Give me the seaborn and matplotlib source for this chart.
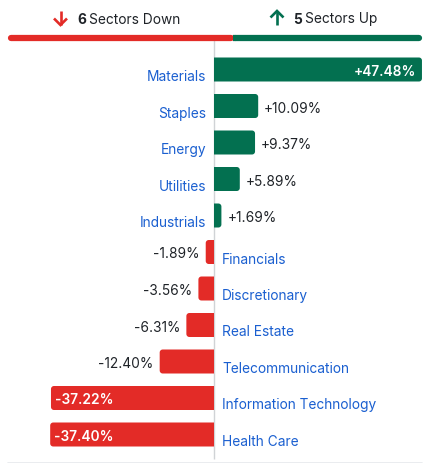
import matplotlib
matplotlib.use("Agg")
import matplotlib.pyplot as plt
from matplotlib.patches import Polygon
import seaborn as sns
import pandas as pd
import numpy as np

sectors = ["Materials", "Staples", "Energy", "Utilities", "Industrials",
           "Financials", "Discretionary", "Real Estate", "Telecommunication",
           "Information Technology", "Health Care"]
values = [47.48, 10.09, 9.37, 5.89, 1.69, -1.89, -3.56, -6.31, -12.40, -37.22, -37.40]
value_labels = ["+47.48%", "+10.09%", "+9.37%", "+5.89%", "+1.69%", "-1.89%",
                "-3.56%", "-6.31%", "-12.40%", "-37.22%", "-37.40%"]
n_down, n_up = 6, 5

GREEN = "#037050"
RED = "#e32b27"
BLUE = "#1a5fd0"
DARK = "#1f2328"

df = pd.DataFrame({"sector": sectors, "value": values,
                   "dir": ["up" if v > 0 else "down" for v in values]})

W, H = 433, 464
fig = plt.figure(figsize=(W / 100, H / 100), dpi=100)
sns.set_style("white")
plt.rcParams["font.family"] = ["Inter", "DejaVu Sans"]

ax = fig.add_axes([0, 0, 1, 1])
PX_X = 4.38      # pixels per percent unit
X0 = 214         # zero line pixel
ROW = 36.5       # pixels per row
Y0 = 70.5        # first row center pixel

sns.barplot(data=df, x="value", y="sector", hue="dir",
            palette={"up": GREEN, "down": RED}, dodge=False, legend=False,
            saturation=1, width=24 / ROW, orient="h", ax=ax, order=sectors)
ax.set_xlim(-X0 / PX_X, (W - X0) / PX_X)
ax.set_ylim((H - Y0) / ROW, -Y0 / ROW)
ax.axis("off")

# rounded outer corners only
rx = 3.0 / PX_X
ry = 3.0 / ROW
t = np.linspace(0, np.pi / 2, 8)
for p in list(ax.patches):
    x, y = p.get_x(), p.get_y()
    w, h = p.get_width(), p.get_height()
    if h == 0 or w == 0:
        continue
    fc = p.get_facecolor()
    y0, y1 = y, y + h
    e = x + w
    s = np.sign(w)
    r = min(rx, abs(w) / 2)
    cx = e - s * r
    top_pts = [(cx + s * r * np.sin(a), y0 + ry - ry * np.cos(a)) for a in t]
    bot_pts = [(cx + s * r * np.sin(a), y1 - ry + ry * np.cos(a)) for a in t[::-1]]
    pts = [(0, y0)] + top_pts + bot_pts + [(0, y1)]
    ax.add_patch(Polygon(pts, closed=True, fc=fc, ec="none", zorder=2))
    p.remove()

def py(pix):
    return (pix - Y0) / ROW

# zero line
ax.plot([0, 0], [py(40), py(460)], color="#d0d3d6", lw=1, zorder=1,
        solid_capstyle="butt")
# bottom rule
ax.plot([(8 - X0) / PX_X, (422 - X0) / PX_X], [py(463.5), py(463.5)],
        color="#e6e9ec", lw=1.2, zorder=1)

pad = 6 / PX_X
txt_off = 1.5 / ROW
lab_off = 6.5 / ROW
FS = 9.9
for i, (s, v, lbl) in enumerate(zip(sectors, values, value_labels)):
    if v > 0:
        ax.text(-8 / PX_X, i + lab_off, s, ha="right", va="center",
                color=BLUE, fontsize=FS)
        if v > 30:
            ax.text(v - pad, i + txt_off, lbl, ha="right", va="center",
                    color="white", fontsize=FS, fontweight="semibold")
        else:
            ax.text(v + pad, i + txt_off, lbl, ha="left", va="center",
                    color=DARK, fontsize=FS)
    else:
        ax.text(8 / PX_X, i + lab_off, s, ha="left", va="center",
                color=BLUE, fontsize=FS)
        if v < -30:
            ax.text(v + pad * 0.6, i + txt_off, lbl, ha="left", va="center",
                    color="white", fontsize=FS, fontweight="semibold")
        else:
            ax.text(v - pad, i + txt_off, lbl, ha="right", va="center",
                    color=DARK, fontsize=FS)

# header
def fx(px):
    return px / W
def fy(px):
    return 1 - px / H

def arrow(xc, down, color):
    lw = 1.9
    fig.add_artist(plt.Line2D([fx(xc), fx(xc)], [fy(12), fy(26)],
                              color=color, lw=lw, solid_capstyle="butt"))
    if down:
        fig.add_artist(plt.Line2D([fx(xc - 6.5), fx(xc), fx(xc + 6.5)],
                                  [fy(19.5), fy(26), fy(19.5)],
                                  color=color, lw=lw, solid_joinstyle="miter",
                                  solid_capstyle="butt"))
    else:
        fig.add_artist(plt.Line2D([fx(xc - 6.5), fx(xc), fx(xc + 6.5)],
                                  [fy(18.5), fy(12), fy(18.5)],
                                  color=color, lw=lw, solid_joinstyle="miter",
                                  solid_capstyle="butt"))

arrow(60.5, True, RED)
arrow(277, False, GREEN)
hy = 19.5
fig.text(fx(77), fy(hy), str(n_down), color=DARK, fontsize=FS,
         fontweight="bold", ha="left", va="center")
fig.text(fx(89), fy(hy), "Sectors Down", color=DARK, fontsize=FS,
         ha="left", va="center")
fig.text(fx(293), fy(hy), str(n_up), color=DARK, fontsize=FS,
         fontweight="bold", ha="left", va="center")
fig.text(fx(305), fy(hy), "Sectors Up", color=DARK, fontsize=FS,
         ha="left", va="center")

hdr_y = 39
fig.add_artist(plt.Line2D([fx(11), fx(231)], [fy(hdr_y), fy(hdr_y)],
                          color=RED, lw=4.5, solid_capstyle="round"))
fig.add_artist(plt.Line2D([fx(236), fx(419)], [fy(hdr_y), fy(hdr_y)],
                          color=GREEN, lw=4.5, solid_capstyle="round"))
fig.add_artist(plt.Line2D([fx(232.5), fx(236)], [fy(hdr_y), fy(hdr_y)],
                          color=GREEN, lw=4.5, solid_capstyle="butt"))

fig.savefig("out.png", dpi=100)
